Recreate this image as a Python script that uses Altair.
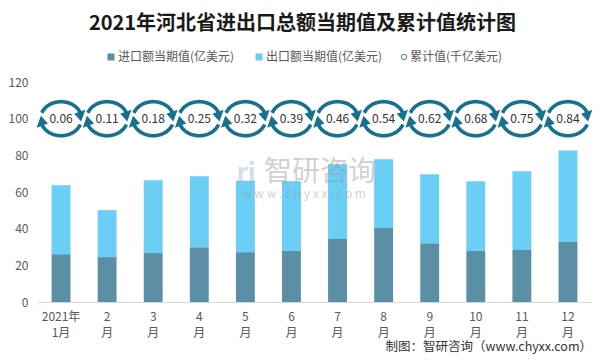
import math
import altair as alt
import pandas as pd

# ---------------- data ----------------
months = ["2021年1月", "2月", "3月", "4月", "5月", "6月", "7月", "8月", "9月", "10月", "11月", "12月"]
imports = [26.1, 24.5, 26.7, 29.9, 27.2, 27.8, 34.3, 40.3, 32.1, 27.8, 28.3, 32.7]
exports = [37.6, 25.6, 39.7, 38.7, 39.0, 38.0, 40.8, 37.5, 37.6, 38.0, 43.0, 50.0]
cumulative = [0.06, 0.11, 0.18, 0.25, 0.32, 0.39, 0.46, 0.54, 0.62, 0.68, 0.75, 0.84]
y_ticks = [0, 20, 40, 60, 80, 100, 120]
title_text = "2021年河北省进出口总额当期值及累计值统计图"
legend_labels = ["进口额当期值(亿美元)", "出口额当期值(亿美元)", "累计值(千亿美元)"]
source_text = "制图：智研咨询（www.chyxx.com）"
watermark_cn = "智研咨询"
watermark_url = "w w w . c h y x x . c o m"

df = pd.DataFrame({"month": months, "imp": imports, "exp": exports, "cum": cumulative})

FONT = "Noto Sans CJK SC"
C_IMP = "#5b8fa6"
C_EXP = "#6bcef5"
C_ICON = "#16708f"
C_TXT = "#595959"

# ---------------- circular-arrow icon shape ----------------
RY = 0.83


def pt(theta, k=1.0):
    t = math.radians(theta)
    return k * math.cos(t), k * RY * math.sin(t)


def arc_path(a0, a1, step=5):
    pts = []
    a = a0
    while a < a1:
        pts.append(pt(a))
        a += step
    pts.append(pt(a1))
    s = "M%.3f %.3f" % pts[0]
    for p in pts[1:]:
        s += " L%.3f %.3f" % p
    return s


def head_path(base, tip, w=0.3):
    p1 = pt(base, 1 - w)
    p2 = pt(base, 1 + w)
    p3 = pt(tip, 1.0)
    return "M%.3f %.3f L%.3f %.3f L%.3f %.3f Z" % (p1 + p2 + p3)


ARCS = arc_path(200, 338) + " " + arc_path(20, 158)
HEADS = head_path(336, 10) + " " + head_path(156, 190)
ICON_SIZE = 1681

# ---------------- chart ----------------
x_axis = alt.Axis(
    title=None,
    labelAngle=0,
    labelFont=FONT,
    labelFontSize=12,
    labelColor=C_TXT,
    labelLineHeight=16,
    labelPadding=9,
    labelOverlap=False,
    ticks=False,
    grid=False,
    domainColor="#d9d9d9",
    labelExpr="datum.value == '2021年1月' ? ['2021年','1月'] : [replace(datum.value,'月',''),'月']",
)
y_axis = alt.Axis(
    title=None,
    values=y_ticks,
    labelFont=FONT,
    labelFontSize=12,
    labelColor=C_TXT,
    labelPadding=10,
    labelOverlap=False,
    ticks=False,
    domain=False,
    grid=False,
)
x_enc = alt.X(
    "month:N",
    sort=months,
    scale=alt.Scale(paddingInner=0.59, paddingOuter=0.295),
    axis=x_axis,
)
x_plain = alt.X("month:N", sort=months, axis=x_axis)
y_icon = alt.YDatum(100, axis=y_axis)

base = alt.Chart(df)

bar_imp = base.mark_bar(color=C_IMP).encode(
    x=x_enc,
    y=alt.Y("imp:Q", scale=alt.Scale(domain=[0, 120]), axis=y_axis),
    y2=alt.datum(0),
)

bar_exp = base.transform_calculate(total="datum.imp + datum.exp").mark_bar(color=C_EXP).encode(
    x=x_plain,
    y=alt.Y("total:Q", axis=y_axis),
    y2="imp:Q",
)

icon_arcs = base.mark_point(
    shape=ARCS, filled=False, stroke=C_ICON, strokeWidth=3.6, size=ICON_SIZE, opacity=1
).encode(x=x_plain, y=y_icon)

icon_heads = base.mark_point(
    shape=HEADS, filled=True, fill=C_ICON, strokeWidth=0, size=ICON_SIZE, opacity=1
).encode(x=x_plain, y=y_icon)

icon_text = base.mark_text(font=FONT, fontSize=12, color="#333333").encode(
    x=x_plain, y=y_icon, text=alt.Text("cum:Q", format=".2f")
)

# title
title = alt.Chart(pd.DataFrame({"t": [title_text]})).mark_text(
    font=FONT, fontSize=20, fontWeight="bold", color="#1a1a1a", baseline="middle", align="center"
).encode(x=alt.value(264.5), y=alt.value(-58.5), text="t:N")

# legend
leg_df = pd.DataFrame({"t": legend_labels})
leg_sq1 = alt.Chart(leg_df.iloc[[0]]).mark_square(color=C_IMP, size=49, opacity=1).encode(
    x=alt.value(73), y=alt.value(-25)
)
leg_tx1 = alt.Chart(leg_df.iloc[[0]]).mark_text(
    font=FONT, fontSize=12, color=C_TXT, align="left", baseline="middle"
).encode(x=alt.value(80), y=alt.value(-25), text="t:N")
leg_sq2 = alt.Chart(leg_df.iloc[[1]]).mark_square(color=C_EXP, size=49, opacity=1).encode(
    x=alt.value(221), y=alt.value(-25)
)
leg_tx2 = alt.Chart(leg_df.iloc[[1]]).mark_text(
    font=FONT, fontSize=12, color=C_TXT, align="left", baseline="middle"
).encode(x=alt.value(228), y=alt.value(-25), text="t:N")
leg_c3 = alt.Chart(leg_df.iloc[[2]]).mark_point(
    shape="circle", filled=False, stroke="#5a7f90", strokeWidth=1, size=30, opacity=1
).encode(x=alt.value(366), y=alt.value(-25))
leg_tx3 = alt.Chart(leg_df.iloc[[2]]).mark_text(
    font=FONT, fontSize=12, color=C_TXT, align="left", baseline="middle"
).encode(x=alt.value(372), y=alt.value(-25), text="t:N")

# watermark
wm1 = alt.Chart(pd.DataFrame({"t": [watermark_cn]})).mark_text(
    font=FONT, fontSize=28, color="#9a9a9a", opacity=0.45, align="center", baseline="middle"
).encode(x=alt.value(282), y=alt.value(91), text="t:N")
wm2 = alt.Chart(pd.DataFrame({"t": [watermark_url]})).mark_text(
    font=FONT, fontSize=12, color="#9a9a9a", opacity=0.45, align="center", baseline="middle"
).encode(x=alt.value(266), y=alt.value(112), text="t:N")
wm_logo = alt.Chart(pd.DataFrame({"t": ["ri"]})).mark_text(
    font=FONT, fontSize=26, fontWeight="bold", color="#8fa0b8", opacity=0.35, align="center", baseline="middle"
).encode(x=alt.value(208), y=alt.value(92), text="t:N")

# source
src = alt.Chart(pd.DataFrame({"t": [source_text]})).mark_text(
    font=FONT, fontSize=12.5, color="#333333", align="right", baseline="middle"
).encode(x=alt.value(554), y=alt.value(265), text="t:N")

chart = alt.layer(
    bar_imp, bar_exp, wm_logo, wm1, wm2, icon_arcs, icon_heads, icon_text,
    title, leg_sq1, leg_tx1, leg_sq2, leg_tx2, leg_c3, leg_tx3, src,
).properties(
    width=553,
    height=220,
    padding={"left": 30, "top": 74, "right": 7, "bottom": 53},
    autosize=alt.AutoSizeParams(type="none"),
    background="white",
).configure_view(stroke=None).configure_axisY(labelOverlap=False, tickCount=7)

chart.save("out.html", embed_options={"renderer": "svg", "actions": False})
